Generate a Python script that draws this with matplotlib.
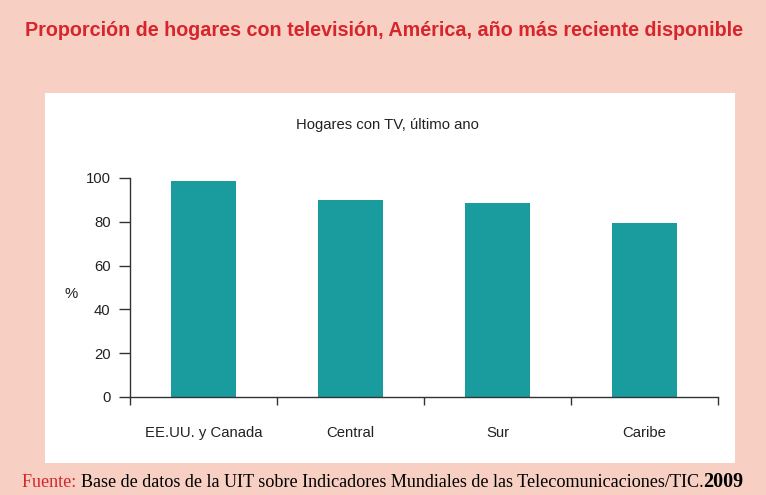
import matplotlib
matplotlib.use('Agg')
import matplotlib.pyplot as plt
from matplotlib.patches import Rectangle
import numpy as np

# Data
regions = ['EE.UU. y Canada', 'Central', 'Sur', 'Caribe']
tv_share = [98.6, 90.0, 88.5, 79.5]
y_ticks = [0, 20, 40, 60, 80, 100]

W, H = 766, 495
bg_color = '#F7D0C3'
bar_color = '#1A9C9E'
red = '#D7252B'

fig = plt.figure(figsize=(W / 100, H / 100), dpi=100)
fig.patch.set_facecolor(bg_color)

# White panel behind the chart
panel = Rectangle((45 / W, 1 - 463 / H), (735 - 45) / W, (463 - 93) / H,
                  transform=fig.transFigure, facecolor='white', edgecolor='none', zorder=-5)
fig.patches.append(panel)

# Main title
fig.text(384 / W, 1 - 30 / H,
         'Proporción de hogares con televisión, América, año más reciente disponible',
         ha='center', va='center', color=red, fontsize=14.2, fontweight='bold',
         family='Liberation Sans')

# Axes
ax = fig.add_axes([130 / W, 1 - 397 / H, (718 - 130) / W, (397 - 178) / H])
ax.set_facecolor('none')
ax.set_zorder(2)
x = np.arange(len(regions))
ax.bar(x, tv_share, width=0.44, color=bar_color, zorder=2)

ax.set_xlim(-0.5, len(regions) - 0.5)
ax.set_ylim(0, 100)
ax.set_yticks(y_ticks)
ax.set_xticks(np.arange(len(regions) + 1) - 0.5)
ax.set_xticklabels([])
ax.set_xticks(x, minor=True)
ax.set_xticklabels(regions, minor=True, fontsize=10.7, family='Liberation Sans', color='#222222')
ax.tick_params(axis='x', which='minor', length=0, pad=21)
ax.tick_params(axis='x', which='major', length=6, width=1, color='#333333')
ax.tick_params(axis='y', length=8, width=1, color='#333333', labelsize=10.7, pad=6,
               labelcolor='#222222')
for lab in ax.get_yticklabels():
    lab.set_family('Liberation Sans')

for side in ['top', 'right']:
    ax.spines[side].set_visible(False)
for side in ['left', 'bottom']:
    ax.spines[side].set_color('#333333')
    ax.spines[side].set_linewidth(1)

fig.text(387 / W, 1 - 125 / H, 'Hogares con TV, último ano', ha='center', va='center',
         fontsize=10.7, family='Liberation Sans', color='#222222')
fig.text(71 / W, 1 - 294 / H, '%', ha='center', va='center',
         fontsize=10.7, family='Liberation Sans', color='#222222')

# Footer with mixed styles
renderer = fig.canvas.get_renderer()
parts = [
    ('Fuente: ', red, 'normal', 13.1),
    ('Base de datos de la UIT sobre Indicadores Mundiales de las Telecomunicaciones/TIC.', 'black', 'normal', 13.1),
    ('2009', 'black', 'bold', 14.5),
]
xpos = 22
ybase = 1 - 487 / H
for txt, col, weight, size in parts:
    t = fig.text(xpos / W, ybase, txt, ha='left', va='baseline', color=col,
                 fontweight=weight, fontsize=size, family='Liberation Serif')
    bb = t.get_window_extent(renderer=renderer)
    xpos += bb.width

fig.savefig('out.png', dpi=100, facecolor=bg_color)
